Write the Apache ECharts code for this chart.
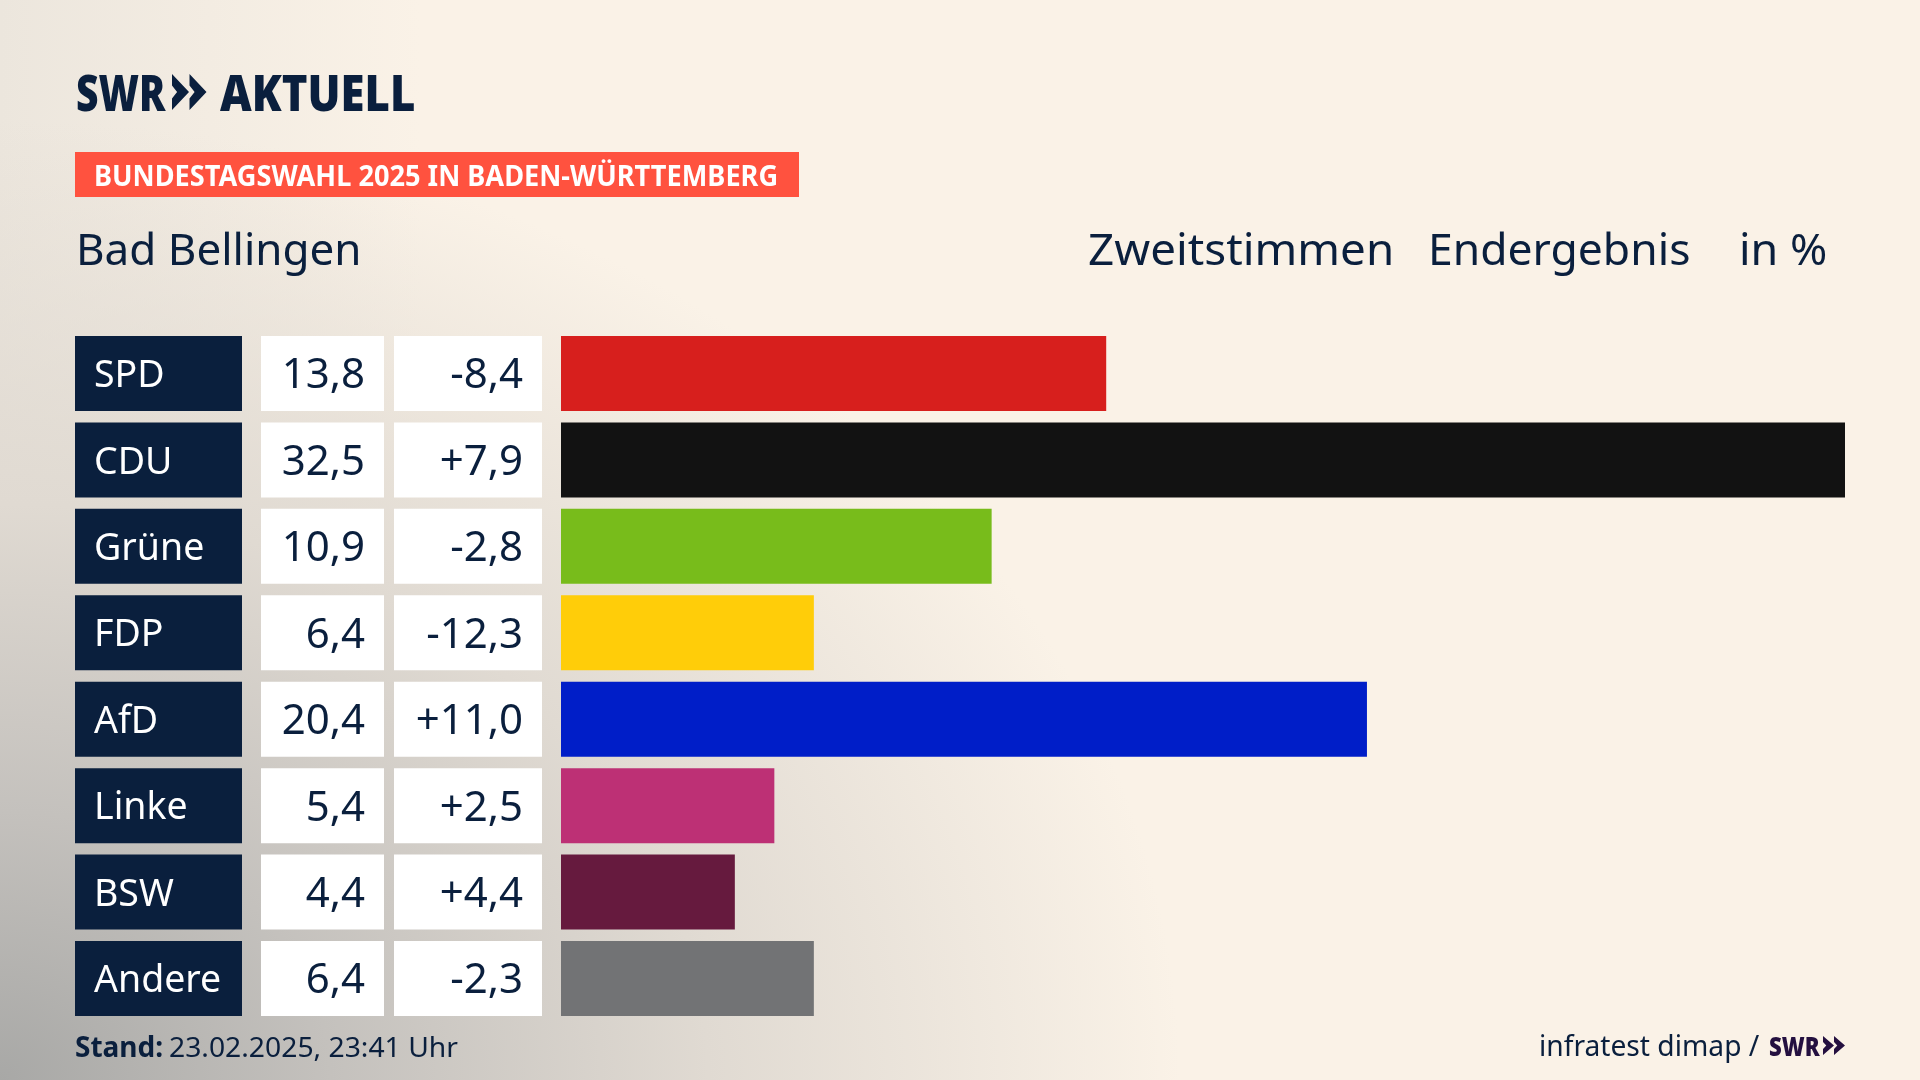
<!DOCTYPE html>
<html>
<head>
<meta charset="utf-8">
<title>Bad Bellingen</title>
<script src="https://cdn.jsdelivr.net/npm/echarts@6/dist/echarts.min.js"></script>
<style>
html, body { margin: 0; padding: 0; width: 1920px; height: 1080px; overflow: hidden; }
body {
	background-color: #faf2e7;
	background-image:
		radial-gradient(ellipse 1180px 960px at 0px 1080px, #a8a8a6 0%, #c4c1bd 28%, #e0dad2 60%, rgba(250,242,231,0) 100%),
		linear-gradient(90deg, #ece6dd 0px, #faf2e7 420px);
}
#chart { width: 1920px; height: 1080px; }
</style>
</head>
<body>
<div id="chart"></div>
<script>
var parties = ['SPD', 'CDU', 'Grüne', 'FDP', 'AfD', 'Linke', 'BSW', 'Andere'];
var shares = [13.8, 32.5, 10.9, 6.4, 20.4, 5.4, 4.4, 6.4];
var diffs = [-8.4, 7.9, -2.8, -12.3, 11.0, 2.5, 4.4, -2.3];
var partyColors = ['#d71f1d', '#121212', '#78bc1b', '#ffcd09', '#001ec8', '#bd3075', '#661a3e', '#727375'];

var navy = '#0a1f3d';
var fontName = '"Noto Sans"';

function fmt(v) {
	return v.toFixed(1).replace('.', ',');
}
function fmtDiff(v) {
	return (v > 0 ? '+' : '') + fmt(v);
}

// one grid per column, all with the same row bands
var columns = [
	{ left: 75, width: 167 },
	{ left: 261, width: 123 },
	{ left: 394, width: 148 },
	{ left: 561, width: 1284 }
];
var grids = [], xAxes = [], yAxes = [];
for (var i = 0; i < columns.length; i++) {
	grids.push({ left: columns[i].left, width: columns[i].width, top: 330.3, height: 691.4 });
	xAxes.push({ gridIndex: i, type: 'value', min: 0, max: i == 3 ? 32.5 : 1, show: false });
	yAxes.push({ gridIndex: i, type: 'category', data: parties, inverse: true, show: false });
}

function cellSeries(index, color, textColor, position, size, texts) {
	return {
		type: 'bar',
		xAxisIndex: index,
		yAxisIndex: index,
		barWidth: 75,
		silent: true,
		data: parties.map(function () { return 1; }),
		itemStyle: { color: color },
		label: {
			show: true,
			position: position,
			distance: 19,
			offset: [0, 3],
			fontFamily: fontName,
			fontSize: size,
			color: textColor,
			formatter: function (p) { return texts[p.dataIndex]; }
		}
	};
}

function headText(x, y, text, size, weight, color, scale) {
	return {
		type: 'text',
		x: x,
		y: y,
		scaleX: scale || 1,
		silent: true,
		style: {
			text: text,
			fontFamily: fontName,
			fontSize: size,
			fontWeight: weight || 'normal',
			fill: color || navy,
			textAlign: 'left',
			textVerticalAlign: 'bottom'
		}
	};
}

function chevrons(x, y, w, step, h, color) {
	// the two arrows of the SWR logo
	var list = [];
	for (var k = 0; k < 2; k++) {
		var x0 = x + k * step;
		list.push({
			type: 'polygon',
			silent: true,
			shape: { points: [[x0, y], [x0 + w, y + h / 2], [x0, y + h], [x0, y + h * 0.68], [x0 + w * 0.3, y + h / 2], [x0, y + h * 0.32]] },
			style: { fill: color }
		});
	}
	return list;
}

var graphics = [
	headText(76, 122, 'SWR', 50, 900, navy, 0.78),
	headText(220, 122, 'AKTUELL', 50, 900, navy, 0.873),
	{ type: 'rect', silent: true, shape: { x: 75, y: 152, width: 724, height: 45 }, style: { fill: '#ff523f' } },
	headText(94, 192, 'BUNDESTAGSWAHL 2025 IN BADEN-WÜRTTEMBERG', 28, 'bold', '#ffffff', 0.97),
	headText(76, 274, 'Bad Bellingen', 44),
	headText(1088, 274, 'Zweitstimmen', 44, 'normal', navy, 1.04),
	headText(1428, 274, 'Endergebnis', 44, 'normal', navy, 1.01),
	headText(1739, 274, 'in %', 44, 'normal', navy, 1.02),
	headText(75, 1063, 'Stand:', 28, 'bold'),
	headText(169, 1063, '23.02.2025, 23:41 Uhr', 28, 'normal', navy, 1.01),
	headText(1539, 1062, 'infratest dimap /', 28.2),
	headText(1769, 1062, 'SWR', 26, 900, '#241040', 0.85)
].concat(chevrons(172, 74, 17, 17.5, 36, navy), chevrons(1823, 1036, 11, 11, 19, '#241040'));

var chart = echarts.init(document.getElementById('chart'), null, { renderer: 'canvas' });
chart.setOption({
	animation: false,
	backgroundColor: 'transparent',
	grid: grids,
	xAxis: xAxes,
	yAxis: yAxes,
	series: [
		cellSeries(0, navy, '#ffffff', 'insideLeft', 37.5, parties),
		cellSeries(1, '#ffffff', navy, 'insideRight', 42, shares.map(fmt)),
		cellSeries(2, '#ffffff', navy, 'insideRight', 42, diffs.map(fmtDiff)),
		{
			type: 'bar',
			xAxisIndex: 3,
			yAxisIndex: 3,
			barWidth: 75,
			silent: true,
			data: shares.map(function (v, idx) {
				return { value: v, itemStyle: { color: partyColors[idx] } };
			})
		}
	],
	graphic: graphics
});
</script>
</body>
</html>
